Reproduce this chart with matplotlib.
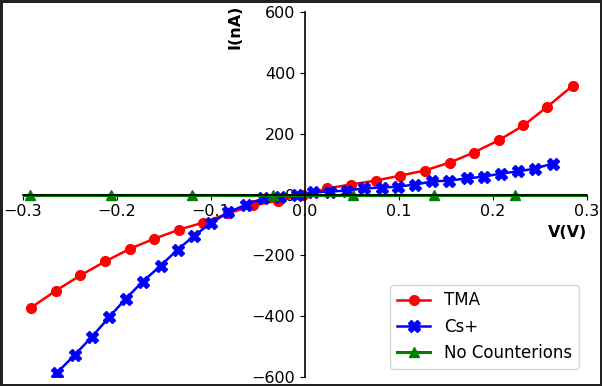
import matplotlib
matplotlib.use('Agg')
import matplotlib.pyplot as plt

# TMA (red circles)
v_tma = [-0.2915, -0.265, -0.239, -0.2125, -0.186, -0.16, -0.1335, -0.108,
         -0.0815, -0.055, -0.029, -0.0025, 0.0235, 0.049, 0.0755, 0.101,
         0.1275, 0.154, 0.1795, 0.206, 0.2325, 0.258, 0.285]
i_tma = [-372, -316, -266, -220, -178, -145, -115, -92,
         -62, -36, -20, -3, 20, 33, 46, 62,
         79, 105, 138, 178, 227, 289, 358]

# Cs+ (blue X)
v_cs = [-0.2635, -0.2445, -0.2265, -0.2085, -0.1905, -0.1725, -0.1535, -0.1355,
        -0.1175, -0.0995, -0.0815, -0.0625, -0.0445, -0.0265, -0.0085,
        0.0085, 0.0265, 0.0445, 0.0625, 0.0815, 0.0995, 0.1175, 0.1355,
        0.1535, 0.1725, 0.1905, 0.2085, 0.2265, 0.2445, 0.2635]
i_cs = [-585, -526, -467, -404, -342, -286, -234, -181,
        -135, -92, -59, -33, -13, -7, -3,
        7, 10, 13, 20, 23, 26, 33, 43,
        46, 53, 59, 69, 76, 85, 102]

# No counterions (green triangles, flat line)
v_none = [-0.299, -0.2926, -0.2065, -0.12, -0.034, 0.051, 0.137, 0.223, 0.298]
i_none = [0, 0, 0, 0, 0, 0, 0, 0, 0]
marks_none = [1, 2, 3, 4, 5, 6, 7]

plt.rcParams['font.size'] = 11.5

fig = plt.figure(figsize=(6.02, 3.86), dpi=100)
fig.patch.set_edgecolor('#222222')
fig.patch.set_linewidth(2.5)
ax = fig.add_axes([0.038, 0.023, 0.937, 0.946])

ax.plot(v_tma, i_tma, color='red', marker='o', markersize=7, lw=1.8, label='TMA')
ax.plot(v_cs, i_cs, color='blue', marker='X', markersize=8, lw=1.8, label='Cs+')
ax.plot(v_none, i_none, color='green', marker='^', markersize=7, lw=2.2,
        markevery=marks_none, label='No Counterions')

ax.set_xlim(-0.3, 0.3)
ax.set_ylim(-600, 600)
ax.set_xticks([-0.3, -0.2, -0.1, 0.0, 0.1, 0.2, 0.3])
ax.set_yticks([-600, -400, -200, 0, 200, 400, 600])

ax.spines['left'].set_position('zero')
ax.spines['bottom'].set_position('zero')
ax.spines['top'].set_visible(False)
ax.spines['right'].set_visible(False)
for s in ['left', 'bottom']:
    ax.spines[s].set_linewidth(1.2)

ax.set_xlabel('V(V)', fontweight='bold', loc='right')
ax.set_ylabel('I(nA)', fontweight='bold', loc='top')
ax.yaxis.set_label_coords(0.39, 1.02, transform=ax.transAxes)
ax.yaxis.label.set_horizontalalignment('right')

ax.legend(loc='lower right', fontsize=12)

fig.savefig('out.png', dpi=100)
